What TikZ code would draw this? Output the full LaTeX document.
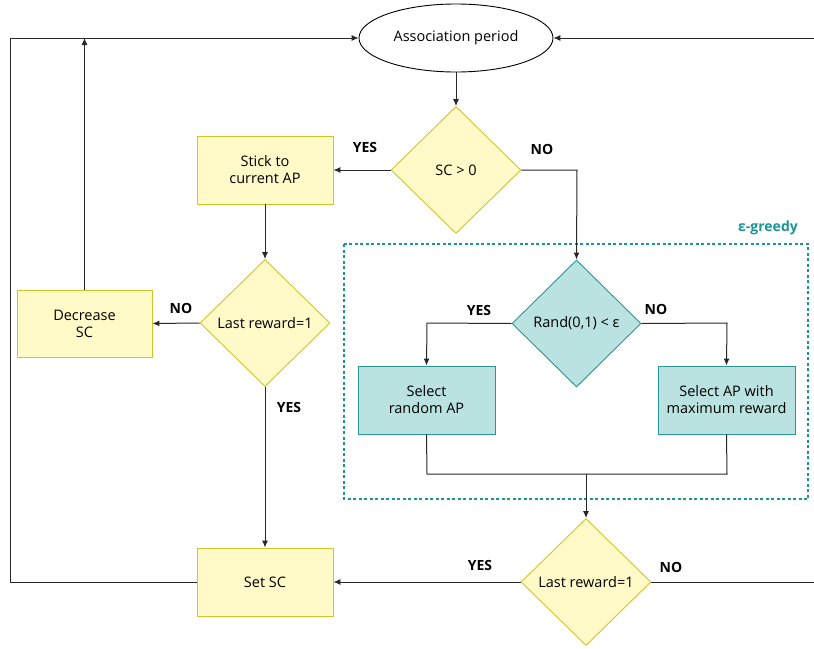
\documentclass[tikz,border=0pt]{standalone}
\usepackage{fontspec}
\setmainfont{Open Sans}
\usetikzlibrary{shapes.geometric,arrows.meta}
\definecolor{yfill}{RGB}{255,250,200}
\definecolor{ydraw}{RGB}{212,196,40}
\definecolor{tfill}{RGB}{186,226,224}
\definecolor{tdraw}{RGB}{40,150,148}
\definecolor{tdash}{RGB}{25,150,150}
\definecolor{lineC}{RGB}{40,40,40}
\begin{document}
\begin{tikzpicture}[x=1pt,y=-1pt,
  every node/.style={font=\fontsize{14.5}{17}\selectfont, align=center, inner sep=0pt},
  ybox/.style={draw=ydraw, fill=yfill, line width=0.9pt, minimum width=136pt, minimum height=68pt},
  tbox/.style={draw=tdraw, fill=tfill, line width=0.9pt, minimum width=137pt, minimum height=68pt},
  ydia/.style={diamond, draw=ydraw, fill=yfill, line width=0.9pt, minimum width=130pt, minimum height=127pt},
  tdia/.style={diamond, draw=tdraw, fill=tfill, line width=0.9pt, minimum width=129pt, minimum height=127pt},
  conn/.style={draw=lineC, line width=1pt},
  arr/.style={conn, -{Latex[length=7pt,width=6pt]}},
  lbl/.style={font=\fontsize{14}{16}\selectfont\bfseries}
]
\useasboundingbox (0,0) rectangle (814,648);
\fill[white] (0,0) rectangle (814,648);

% nodes
\node[ellipse, draw=black, line width=0.9pt, minimum width=194pt, minimum height=68pt] (assoc) at (456,38) {Association period};
\node[ydia] (sc) at (456,170) {SC > 0};
\node[ybox] (stick) at (265,170) {Stick to\\current AP};
\node[ydia] (lr1) at (265,323) {Last reward=1};
\node[ybox, minimum width=135pt, minimum height=67pt] (dec) at (84.5,323.5) {Decrease\\SC};
\node[ybox] (set) at (265,582) {Set SC};
\node[tdia] (rand) at (576.5,323.5) {Rand(0,1) < ε};
\node[tbox] (rnd) at (426.5,400) {Select\\random AP};
\node[tbox] (max) at (726.5,400) {Select AP with\\maximum reward};
\node[ydia] (lr2) at (586,582) {Last reward=1};

% dashed region
\draw[tdash, line width=1.3pt, dash pattern=on 3pt off 2.5pt] (344,244) rectangle (808,499);
\node[font=\fontsize{14}{16}\selectfont\bfseries, text=tdash] (eg) at (768,228) {ε-greedy};

% coordinates
\coordinate (c1) at (577,170);
\coordinate (c2) at (427,323);
\coordinate (c3) at (727,323);
\coordinate (c4) at (427,474);
\coordinate (c5) at (727,474);
\coordinate (c6) at (586,474);
\coordinate (L1) at (10,582);
\coordinate (L2) at (10,38);
\coordinate (R1) at (820,582);
\coordinate (R2) at (820,38);
\coordinate (D1) at (84.5,38);

% connectors
\draw[arr] (assoc.south) -- (sc.north);
\draw[arr] (sc.west) -- (stick.east);
\draw[arr] (sc.east) -- (c1) -- (rand.north);
\draw[arr] (rand.west) -- (c2) -- (rnd.north);
\draw[arr] (rand.east) -- (c3) -- (max.north);
\draw[conn] (rnd.south) -- (c4) -- (c5) -- (max.south);
\draw[arr] (c6) -- (lr2.north);
\draw[arr] (lr2.west) -- (set.east);
\draw[arr] (lr2.east) -- (R1) -- (R2) -- (assoc.east);
\draw[arr] (set.west) -- (L1) -- (L2) -- (assoc.west);
\draw[arr] (stick.south) -- (lr1.north);
\draw[arr] (lr1.west) -- (dec.east);
\draw[arr] (lr1.south) -- (set.north);
\draw[arr] (dec.north) -- (D1);

% labels
\node[lbl] (y1) at (365,147) {YES};
\node[lbl] (n1) at (542,149) {NO};
\node[lbl] (y2) at (479,310) {YES};
\node[lbl] (n2) at (656,309) {NO};
\node[lbl] (n3) at (181,308) {NO};
\node[lbl] (y3) at (289,407) {YES};
\node[lbl] (y4) at (480,565) {YES};
\node[lbl] (n4) at (671,567) {NO};
\end{tikzpicture}
\end{document}
